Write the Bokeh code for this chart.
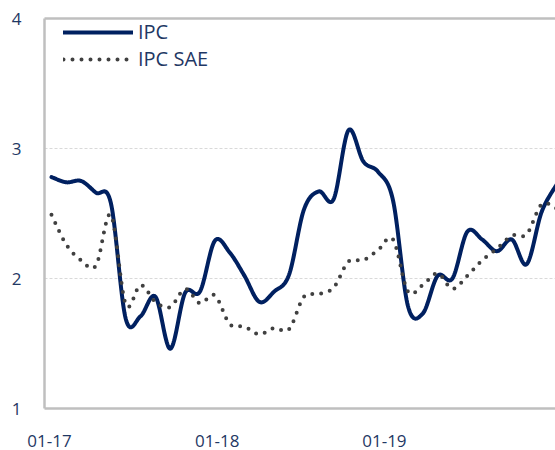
import numpy as np
from bokeh.plotting import figure
from bokeh.models import FixedTicker, LinearAxis, Legend, LegendItem, Range1d
from bokeh.embed import file_html
from bokeh.resources import INLINE

# ---- data (monthly, Jan 2017 onwards) ----
months = list(range(35))
ipc = [2.78, 2.74, 2.75, 2.66, 2.58, 1.69, 1.71, 1.86, 1.46, 1.89, 1.90, 2.29,
       2.20, 2.02, 1.82, 1.90, 2.03, 2.53, 2.67, 2.61, 3.14, 2.90, 2.82, 2.60,
       1.79, 1.73, 2.02, 2.00, 2.36, 2.30, 2.21, 2.30, 2.11, 2.51, 2.72]
ipc_sae = [2.49, 2.26, 2.14, 2.10, 2.49, 1.80, 1.95, 1.82, 1.78, 1.92, 1.81, 1.87,
           1.65, 1.63, 1.57, 1.62, 1.61, 1.86, 1.88, 1.93, 2.13, 2.14, 2.22, 2.30,
           1.90, 1.95, 2.04, 1.92, 2.02, 2.14, 2.23, 2.33, 2.34, 2.57, 2.54]
x_tick_labels = ["01-17", "01-18", "01-19"]
y_ticks = [1, 2, 3, 4]
series_names = ["IPC", "IPC SAE"]


def smooth(xs, ys, n=24):
    """Excel-like smoothed line (Catmull-Rom via cubic Bezier)."""
    xs = np.asarray(xs, float)
    ys = np.asarray(ys, float)
    P = np.column_stack([xs, ys])
    out = []
    m = len(P)
    for i in range(m - 1):
        p0 = P[i]
        p3 = P[i + 1]
        pm = P[i - 1] if i > 0 else P[i]
        pp = P[i + 2] if i + 2 < m else P[i + 1]
        c1 = p0 + (p3 - pm) / 6.0
        c2 = p3 - (pp - p0) / 6.0
        t = np.linspace(0, 1, n, endpoint=(i == m - 2))[:, None]
        seg = ((1 - t) ** 3) * p0 + 3 * ((1 - t) ** 2) * t * c1 + 3 * (1 - t) * t ** 2 * c2 + t ** 3 * p3
        out.append(seg)
    out = np.vstack(out)
    return out[:, 0], out[:, 1]


FONT = "Open Sans"
TXT = "#1f3864"
BORDER = "#bfbfbf"

p = figure(width=555, height=450, output_backend="svg", toolbar_location=None,
           x_range=Range1d(-0.47, 33.94), y_range=Range1d(1, 4),
           min_border_left=44, min_border_right=0, min_border_top=18, min_border_bottom=42)
p.outline_line_color = None
p.background_fill_color = "white"
p.border_fill_color = "white"

sx, sy = smooth(months, ipc)
r1 = p.line(sx, sy, line_color="#002060", line_width=4, line_join="round", line_cap="round")
tx, ty = smooth(months, ipc_sae)
r2 = p.line(tx, ty, line_color="#404040", line_width=4, line_dash="0 9", line_cap="round")

# axes
p.xaxis.ticker = FixedTicker(ticks=[-0.13, 11.16, 22.42])
p.xaxis.major_label_overrides = {-0.13: x_tick_labels[0], 11.16: x_tick_labels[1], 22.42: x_tick_labels[2]}
p.yaxis.ticker = FixedTicker(ticks=y_ticks)
for ax in (p.xaxis[0], p.yaxis[0]):
    ax.axis_line_color = BORDER
    ax.axis_line_width = 2.5
    ax.major_tick_line_color = None
    ax.minor_tick_line_color = None
    ax.major_label_text_font = FONT
    ax.major_label_text_font_size = "17px"
    ax.major_label_text_color = TXT
p.yaxis.major_label_standoff = 17
p.xaxis.major_label_standoff = 20

top = LinearAxis(ticker=FixedTicker(ticks=[]), axis_line_color=BORDER, axis_line_width=2.5,
                 major_tick_line_color=None, minor_tick_line_color=None,
                 major_label_standoff=0)
p.add_layout(top, "above")

p.xgrid.grid_line_color = None
p.ygrid.ticker = FixedTicker(ticks=[2, 3])
p.ygrid.grid_line_color = "#d9d9d9"
p.ygrid.grid_line_dash = "3 2"
p.ygrid.grid_line_width = 1

legend = Legend(items=[LegendItem(label=series_names[0], renderers=[r1]),
                       LegendItem(label=series_names[1], renderers=[r2])],
                location=(19, 336), orientation="vertical",
                margin=0, padding=0, spacing=-4, glyph_width=70, glyph_height=20,
                label_standoff=5, label_text_font=FONT, label_text_font_size="20px",
                label_text_color=TXT, background_fill_alpha=0, border_line_color=None)
p.add_layout(legend)

open("out.html", "w").write(file_html(p, INLINE))
